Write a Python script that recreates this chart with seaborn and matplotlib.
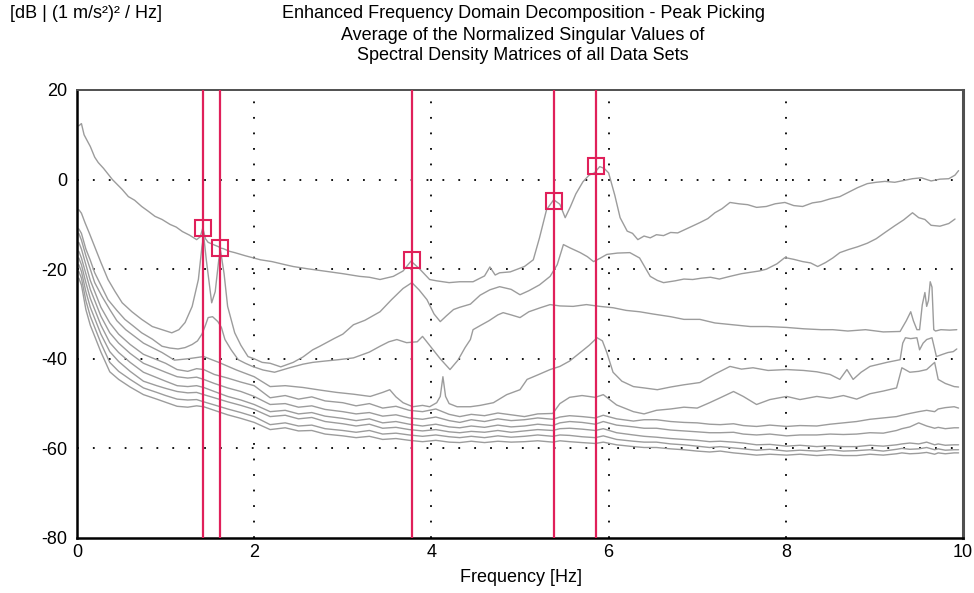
import matplotlib
matplotlib.use("Agg")
import matplotlib.pyplot as plt
import seaborn as sns
import pandas as pd

# ---------------- data ----------------
sv1_freq = [0.02, 0.05, 0.08, 0.12, 0.15, 0.2, 0.24, 0.3, 0.34, 0.4,
            0.45, 0.51, 0.58, 0.65, 0.73, 0.8, 0.88, 0.96, 1.05, 1.12,
            1.19, 1.27, 1.35, 1.39, 1.42, 1.45, 1.48, 1.55, 1.6, 1.62,
            1.65, 1.72, 1.78, 1.9, 2.07, 2.2, 2.35, 2.44, 2.6, 2.82,
            3.0, 3.19, 3.3, 3.42, 3.57, 3.68, 3.77, 3.87, 3.98, 4.06,
            4.2, 4.32, 4.47, 4.6, 4.66, 4.72, 4.77, 4.89, 5.05, 5.15,
            5.22, 5.30, 5.38, 5.45, 5.51, 5.57, 5.63, 5.71, 5.78, 5.84,
            5.9, 5.95, 6.0, 6.07, 6.13, 6.21, 6.27, 6.33, 6.4, 6.47,
            6.54, 6.62, 6.7, 6.78, 6.9, 7.03, 7.12, 7.2, 7.28, 7.37,
            7.47, 7.57, 7.67, 7.78, 7.88, 7.99, 8.09, 8.19, 8.3, 8.4,
            8.5, 8.61, 8.71, 8.81, 8.92, 9.02, 9.12, 9.23, 9.33, 9.43,
            9.53, 9.64, 9.74, 9.84, 9.91, 9.95]
sv1_db = [12, 12.5, 10, 8.5, 7.4, 5, 3.8, 2.5, 1.5, 0,
          -1, -2.2, -3.8, -4.6, -6, -7, -8.2, -8.9, -10, -10.6,
          -11.6, -12.4, -13.4, -12.8, -10.8, -13.2, -14, -14.6, -15, -15.3,
          -15.4, -16, -16.3, -17, -17.9, -18.3, -19, -19.4, -19.9, -20.5,
          -21, -21.6, -21.8, -22.3, -21.6, -20.4, -18.2, -20, -22.3, -22.6,
          -23, -22.8, -22.8, -21.5, -19.5, -21.3, -20.8, -20.6, -19.4, -17.9,
          -13, -6.7, -4.5, -5.5, -8.5, -6, -3.2, -0.5, 1.0, 1.5,
          2.9, 2.5, 1.5, -3.5, -8.5, -11.5, -12, -13.4, -12.6, -13,
          -12.3, -12.5, -11.8, -11.9, -10.8, -9.6, -8.7, -7.4, -6.5, -5.1,
          -5.4, -5.6, -6.2, -6, -5.4, -5.1, -5.8, -6, -5.2, -4.9,
          -4.3, -3.8, -2.8, -1.8, -0.9, -0.6, -0.4, -0.6, -0.2, 0.2,
          0.4, -0.3, 0.1, 0.2, 1.0, 2.0]

sv2_freq = [0.02, 0.05, 0.09, 0.14, 0.2, 0.27, 0.35, 0.43, 0.51, 0.62,
            0.73, 0.85, 0.96, 1.07, 1.15, 1.22, 1.3, 1.37, 1.41, 1.43,
            1.46, 1.52, 1.56, 1.6, 1.62, 1.66, 1.70, 1.78, 1.85, 1.93,
            2.0, 2.09, 2.18, 2.3, 2.44, 2.55, 2.66, 2.74, 2.9, 3.0,
            3.12, 3.25, 3.42, 3.55, 3.68, 3.78, 3.86, 3.95, 4.03, 4.1,
            4.17, 4.25, 4.32, 4.44, 4.55, 4.66, 4.77, 4.9, 5.0, 5.1,
            5.22, 5.34, 5.42, 5.49, 5.56, 5.68, 5.76, 5.83, 5.9, 5.98,
            6.1, 6.24, 6.35, 6.47, 6.55, 6.62, 6.75, 6.85, 6.95, 7.05,
            7.15, 7.25, 7.37, 7.5, 7.6, 7.7, 7.78, 7.9, 7.99, 8.09,
            8.19, 8.28, 8.36, 8.45, 8.53, 8.61, 8.71, 8.81, 8.92, 9.02,
            9.12, 9.23, 9.33, 9.43, 9.5, 9.57, 9.64, 9.74, 9.84, 9.91]
sv2_db = [-6.7, -7.5, -9.6, -12, -15, -18.5, -22.3, -25, -27.5, -29.5,
          -31.2, -32.8, -33.5, -34.2, -33.5, -31.9, -28.3, -22.3, -15, -12.5,
          -18, -27.5, -25, -17.9, -15.8, -21, -28.3, -34.2, -37, -39.5,
          -40, -40.8, -41, -41.8, -40.8, -39.6, -38, -37.2, -35.5, -34.5,
          -32.4, -31.4, -29.5, -26.8, -24.3, -23, -24.6, -26.8, -30, -31.7,
          -30.4, -29, -28.5, -27.8, -25.8, -24.6, -23.9, -24.5, -25.7, -24.8,
          -23.5, -21.6, -19, -14.5, -15.2, -16.3, -17.2, -18.3, -17.6, -16.7,
          -16.4, -16.3, -17.5, -21.6, -22.5, -23, -22.6, -22.2, -22.3, -22.0,
          -21.8, -22.2, -21.6, -21, -20.7, -20.4, -20, -18.8, -17.4, -17.8,
          -18.3, -18.6, -19.4, -18.5, -17.5, -16.3, -15.6, -15, -14.2, -13.2,
          -11.8, -10.3, -9, -7.4, -8.5, -8.9, -10.2, -10.4, -9.8, -8.8]

sv3_freq = [0.02, 0.05, 0.1, 0.15, 0.2, 0.28, 0.35, 0.45, 0.54, 0.63,
            0.73, 0.85, 0.96, 1.05, 1.14, 1.22, 1.3, 1.36, 1.41, 1.45,
            1.48, 1.53, 1.59, 1.63, 1.67, 1.74, 1.82, 1.9, 1.98, 2.1,
            2.23, 2.4, 2.55, 2.66, 2.8, 2.95, 3.12, 3.3, 3.42, 3.52,
            3.61, 3.72, 3.84, 3.9, 3.96, 4.02, 4.1, 4.21, 4.3, 4.38,
            4.44, 4.47, 4.55, 4.65, 4.75, 4.81, 4.9, 5.0, 5.1, 5.23,
            5.34, 5.45, 5.6, 5.75, 5.9, 6.05, 6.2, 6.35, 6.5, 6.7,
            6.85, 7.03, 7.2, 7.4, 7.6, 7.79, 8.01, 8.2, 8.4, 8.53,
            8.7, 8.9, 9.1, 9.29, 9.36, 9.41, 9.44, 9.48, 9.51, 9.54,
            9.57, 9.59, 9.61, 9.63, 9.65, 9.67, 9.69, 9.75, 9.85, 9.93]
sv3_db = [-11, -12, -15.5, -18, -20.8, -24, -26.8, -29.2, -31.2, -32.6,
          -34.2, -35.6, -37.2, -37.6, -37.8, -37.5, -36.8, -36, -34.5, -32.5,
          -30.8, -30.6, -31.7, -33, -35.7, -38, -40.2, -41, -41.7, -42.5,
          -43, -42, -41.2, -40.8, -40.5, -40.2, -39.8, -38.5, -37.2, -36.2,
          -35.7, -36.4, -36.2, -35, -36.5, -38, -40, -42.4, -40.3, -37.5,
          -35.7, -33.5, -32.6, -31.5, -30.2, -29.7, -30.2, -30.8, -29.5, -28.6,
          -27.9, -28.2, -28.3, -27.9, -28.3, -28.6, -29.2, -29.5, -30, -30.6,
          -31.2, -31.2, -32, -32.4, -32.8, -32.8, -33, -33.3, -33.5, -33.5,
          -33.8, -33.5, -34, -33.9, -31.5, -29.5, -31.5, -33.5, -33.5, -28,
          -25.2, -28.3, -27, -22.8, -24, -33.5, -33.8, -33.5, -33.6, -33.5]

sv4_freq = [0.02, 0.05, 0.1, 0.15, 0.2, 0.28, 0.37, 0.45, 0.55, 0.65,
            0.75, 0.85, 0.96, 1.1, 1.25, 1.43, 1.6, 1.8, 2.0, 2.18,
            2.35, 2.55, 2.75, 2.93, 3.12, 3.31, 3.45, 3.53, 3.6, 3.68,
            3.79, 3.9, 3.98, 4.06, 4.1, 4.13, 4.16, 4.2, 4.29, 4.44,
            4.55, 4.7, 4.85, 5.0, 5.08, 5.2, 5.34, 5.45, 5.56, 5.68,
            5.78, 5.87, 5.93, 5.98, 6.05, 6.15, 6.28, 6.4, 6.55, 6.7,
            6.85, 7.03, 7.2, 7.37, 7.5, 7.63, 7.8, 8.01, 8.2, 8.35,
            8.5, 8.61, 8.69, 8.76, 8.85, 8.95, 9.14, 9.29, 9.32, 9.35,
            9.41, 9.48, 9.51, 9.55, 9.59, 9.65, 9.7, 9.77, 9.83, 9.89,
            9.93]
sv4_db = [-12, -13.5, -17, -20, -23, -26, -29, -31.5, -33.5, -35,
          -36.5, -37.5, -38.6, -40.3, -40, -39.5, -40.8, -42.5, -44, -46.2,
          -46, -46.4, -47, -47.5, -47.9, -48.4, -47.5, -46.9, -48.5, -49.8,
          -50.7, -50.4, -50.7, -49.8, -48.4, -44, -48.4, -50, -50.7, -50.7,
          -50.4, -49.8, -48, -46.9, -44.6, -43.6, -42.4, -41.7, -40.5, -38.6,
          -37, -35.3, -36, -38.6, -43, -45, -46.2, -46.5, -46.9, -46.3,
          -45.8, -45.3, -43.4, -41.7, -42.3, -42, -42.6, -42.4, -42.6, -42.9,
          -43.5, -44.6, -42.4, -44.6, -43, -41.7, -40.8, -40.2, -36.5, -35.3,
          -35.5, -35.3, -38, -36.5, -35.7, -35.3, -39.5, -39, -38.6, -38.4,
          -37.8]

low_freq = [0.02, 0.05, 0.1, 0.15, 0.2, 0.27, 0.37, 0.47, 0.6, 0.75,
            0.9, 1.0, 1.13, 1.25, 1.35, 1.43, 1.55, 1.7, 1.85, 2.0,
            2.18, 2.35, 2.5, 2.65, 2.8, 3.0, 3.15, 3.3, 3.45, 3.6,
            3.75, 3.9, 4.05, 4.2, 4.32, 4.45, 4.6, 4.75, 4.9, 5.05,
            5.2, 5.37, 5.45, 5.56, 5.7, 5.85, 5.94, 6.09, 6.28, 6.4,
            6.54, 6.7, 6.85, 7.0, 7.14, 7.26, 7.41, 7.52, 7.67, 7.82,
            8.01, 8.16, 8.35, 8.5, 8.65, 8.8, 8.95, 9.1, 9.25, 9.31,
            9.4, 9.5, 9.59, 9.68, 9.72, 9.8, 9.9, 9.95]
sv5_db = [-14, -15.5, -19, -22.5, -25, -28.5, -32, -34.5, -36.8, -39,
          -40.2, -41, -42.4, -42.8, -42.2, -42.4, -43.5, -44.3, -45.2, -46,
          -48.7, -48.2, -49, -48.5, -49.4, -49.8, -50.5, -50, -51, -50.6,
          -51.5, -51.8, -51.2, -52.4, -52.9, -52.4, -52.7, -52.1, -52.5, -52.9,
          -52.3, -52.2, -50, -48.6, -48.2, -48.6, -48, -50.3, -51.8, -52.3,
          -51.5, -51.2, -50.8, -51, -49.8, -48.7, -47.3, -48.4, -50.2, -49.1,
          -48.4, -49.1, -48.4, -48.8, -48.2, -49, -47.8, -47.2, -46.5, -42,
          -43, -42.8, -42.4, -40.8, -44.6, -45.5, -46.2, -46.3]
sv6_db = [-16, -17.5, -21, -24.5, -27, -30.5, -34.2, -36.5, -38.8, -41,
          -42.2, -43, -44, -44.3, -44.1, -44.6, -45.5, -46.5, -47.3, -48.4,
          -50.2, -50, -50.8, -50.5, -51.3, -51.8, -52.3, -52, -52.8, -52.5,
          -53.2, -53.5, -53, -53.8, -54.2, -53.6, -54, -53.4, -53.8, -53.6,
          -53.2, -53.5, -53, -52.7, -52.9, -53.2, -52.6, -53.4, -53.9, -53.6,
          -53.6, -54, -54.2, -54.3, -54.6, -54.7, -54.5, -54.9, -55.1, -54.8,
          -55.1, -54.9, -55, -54.6, -54.3, -54, -53.5, -53.2, -52.9, -52.6,
          -52.2, -51.8, -51.5, -51.8, -51.2, -50.9, -50.7, -51]
sv7_db = [-17.5, -19, -23, -26.5, -29, -32.5, -36.4, -38.6, -40.8, -43,
          -44.2, -45, -46, -46.2, -46, -46.4, -47.3, -48.4, -49.2, -50.2,
          -51.8, -51.5, -52.3, -52, -52.8, -53.3, -53.8, -53.4, -54.3, -54,
          -54.6, -55, -54.6, -55.2, -55.4, -55, -55.3, -54.8, -55.2, -55,
          -54.6, -54.9, -54.3, -54, -54.2, -54.6, -54, -54.8, -55.2, -55.5,
          -55.5, -55.9, -56.1, -56.3, -56.5, -56.5, -56.4, -56.8, -57, -56.8,
          -57.2, -57, -57, -56.8, -56.9, -56.8, -56.5, -56.6, -56, -55.6,
          -55.2, -54.3, -55, -55.5, -55.3, -55.6, -55.4, -55.4]
sv8_db = [-19, -20.5, -25, -28.5, -31, -34.5, -38.4, -40.6, -42.8, -45,
          -46, -46.6, -47.3, -47.6, -47.5, -48, -48.7, -49.6, -50.4, -51.3,
          -52.9, -52.6, -53.4, -53.1, -54, -54.5, -55, -54.6, -55.5, -55.3,
          -55.8, -56.1, -55.8, -56.3, -56.5, -56.2, -56.4, -56, -56.4, -56.1,
          -55.8, -56, -55.6, -55.5, -55.7, -56, -55.6, -56.5, -57, -57.3,
          -57.5, -57.8, -58, -58.2, -58.5, -58.4, -58.6, -58.8, -59.2, -59.1,
          -59.5, -59.3, -59.6, -59.4, -59.6, -59.6, -59.3, -59.5, -59.2, -59,
          -58.8, -59, -58.6, -59.2, -59, -59.3, -59.2, -59.2]
sv9_db = [-20.5, -22, -27, -30.5, -33, -36.5, -40.8, -42.8, -44.6, -46.5,
          -47.5, -48.2, -49, -49.2, -49.1, -49.6, -50.3, -51.2, -52, -52.9,
          -54.7, -54.3, -55, -54.8, -55.6, -56, -56.4, -56, -56.8, -56.6,
          -57, -57.3, -57, -57.4, -57.6, -57.3, -57.6, -57.2, -57.5, -57.3,
          -57, -57.3, -57, -57.1, -57.4, -57.6, -57.2, -58, -58.4, -58.6,
          -58.6, -59, -59.2, -59.5, -59.8, -59.6, -59.9, -60.1, -60.4, -60.2,
          -60.6, -60.4, -60.6, -60.3, -60.6, -60.5, -60.3, -60.6, -60.2, -60,
          -60.2, -60.1, -59.8, -60.3, -60.1, -60.4, -60.3, -60.3]
sv10_db = [-22, -23.5, -29, -32.5, -35, -38.5, -42.9, -44.6, -46.3, -48,
           -49, -49.7, -50.6, -50.8, -50.5, -50.7, -51.5, -52.5, -53.3, -54.2,
           -55.8, -55.4, -56.1, -56, -56.8, -57.2, -57.6, -57.3, -58, -57.8,
           -58.2, -58.5, -58.2, -58.6, -58.7, -58.4, -58.7, -58.4, -58.6, -58.5,
           -58.3, -58.6, -58.3, -58.5, -58.7, -58.9, -58.6, -59.2, -59.6, -59.8,
           -59.8, -60.1, -60.3, -60.6, -60.8, -60.6, -61, -61.2, -61.5, -61.3,
           -61.5, -61.3, -61.6, -61.4, -61.6, -61.6, -61.3, -61.5, -61.2, -61,
           -61.2, -61.1, -60.9, -61.3, -61, -61.2, -61, -61]

peak_freq = [1.42, 1.61, 3.78, 5.38, 5.86]
peak_db = [-10.7, -15.2, -17.9, -4.8, 3.0]

x_ticks = [0, 2, 4, 6, 8, 10]
y_ticks = [-80, -60, -40, -20, 0, 20]
title_lines = ["Enhanced Frequency Domain Decomposition - Peak Picking",
               "Average of the Normalized Singular Values of",
               "Spectral Density Matrices of all Data Sets"]
y_unit = "[dB | (1 m/s\u00b2)\u00b2 / Hz]"
x_label = "Frequency [Hz]"

# ---------------- assemble ----------------
series = [(sv1_freq, sv1_db), (sv2_freq, sv2_db), (sv3_freq, sv3_db),
          (sv4_freq, sv4_db), (low_freq, sv5_db), (low_freq, sv6_db),
          (low_freq, sv7_db), (low_freq, sv8_db), (low_freq, sv9_db),
          (low_freq, sv10_db)]
frames = []
for i, (f, d) in enumerate(series):
    assert len(f) == len(d), (i, len(f), len(d))
    frames.append(pd.DataFrame({"freq": f, "db": d, "sv": i + 1}))
df = pd.concat(frames, ignore_index=True)

sns.set_theme(style="white")
plt.rcParams["font.family"] = ["Liberation Sans", "DejaVu Sans"]

W, H = 974, 593
fig = plt.figure(figsize=(W / 100, H / 100), dpi=100)
ax = fig.add_axes([77 / W, 1 - 538 / H, (963 - 77) / W, (538 - 90) / H])

RED = "#e0205a"
GRAY = "#9c9c9c"

# dotted grid at interior ticks
for yv in y_ticks[1:-1]:
    ax.axhline(yv, color="black", lw=1.3, ls=(0, (1, 7.8)), zorder=1)
for xv in x_ticks[1:-1]:
    ax.axvline(xv, color="black", lw=1.3, ls=(0, (1, 7.6)), zorder=1)

sns.lineplot(data=df, x="freq", y="db", units="sv", estimator=None,
             sort=False, color=GRAY, lw=1.0, ax=ax, zorder=2)

for f in peak_freq:
    ax.axvline(f, color=RED, lw=1.6, zorder=3)
ax.plot(peak_freq, peak_db, ls="none", marker="s", ms=11, mfc="none",
        mec=RED, mew=1.5, zorder=4)

ax.set_xlim(0, 10)
ax.set_ylim(-80, 20)
ax.set_xticks(x_ticks)
ax.set_yticks(y_ticks)
ax.set_xticklabels([str(t) for t in x_ticks])
ax.set_yticklabels([str(t) for t in y_ticks])
ax.tick_params(axis="both", length=0, labelsize=13, colors="black")
ax.tick_params(axis="y", pad=7)
ax.tick_params(axis="x", pad=4)
ax.set_xlabel("")
ax.set_ylabel("")

for side in ["left", "bottom"]:
    ax.spines[side].set_color("black")
    ax.spines[side].set_linewidth(1.8)
ax.spines["top"].set_color("#505050")
ax.spines["top"].set_linewidth(1.4)
ax.spines["right"].set_color("#505050")
ax.spines["right"].set_linewidth(2.2)

for i, line in enumerate(title_lines):
    fig.text(523 / W, 1 - (14 + 21 * i) / H, line, ha="center", va="center",
             fontsize=13, color="black")
fig.text(10 / W, 1 - 14 / H, y_unit, ha="left", va="center", fontsize=13,
         color="black")
fig.text(521 / W, 1 - 577 / H, x_label, ha="center", va="center",
         fontsize=13, color="black")

fig.savefig("out.png", dpi=100, facecolor="white")
